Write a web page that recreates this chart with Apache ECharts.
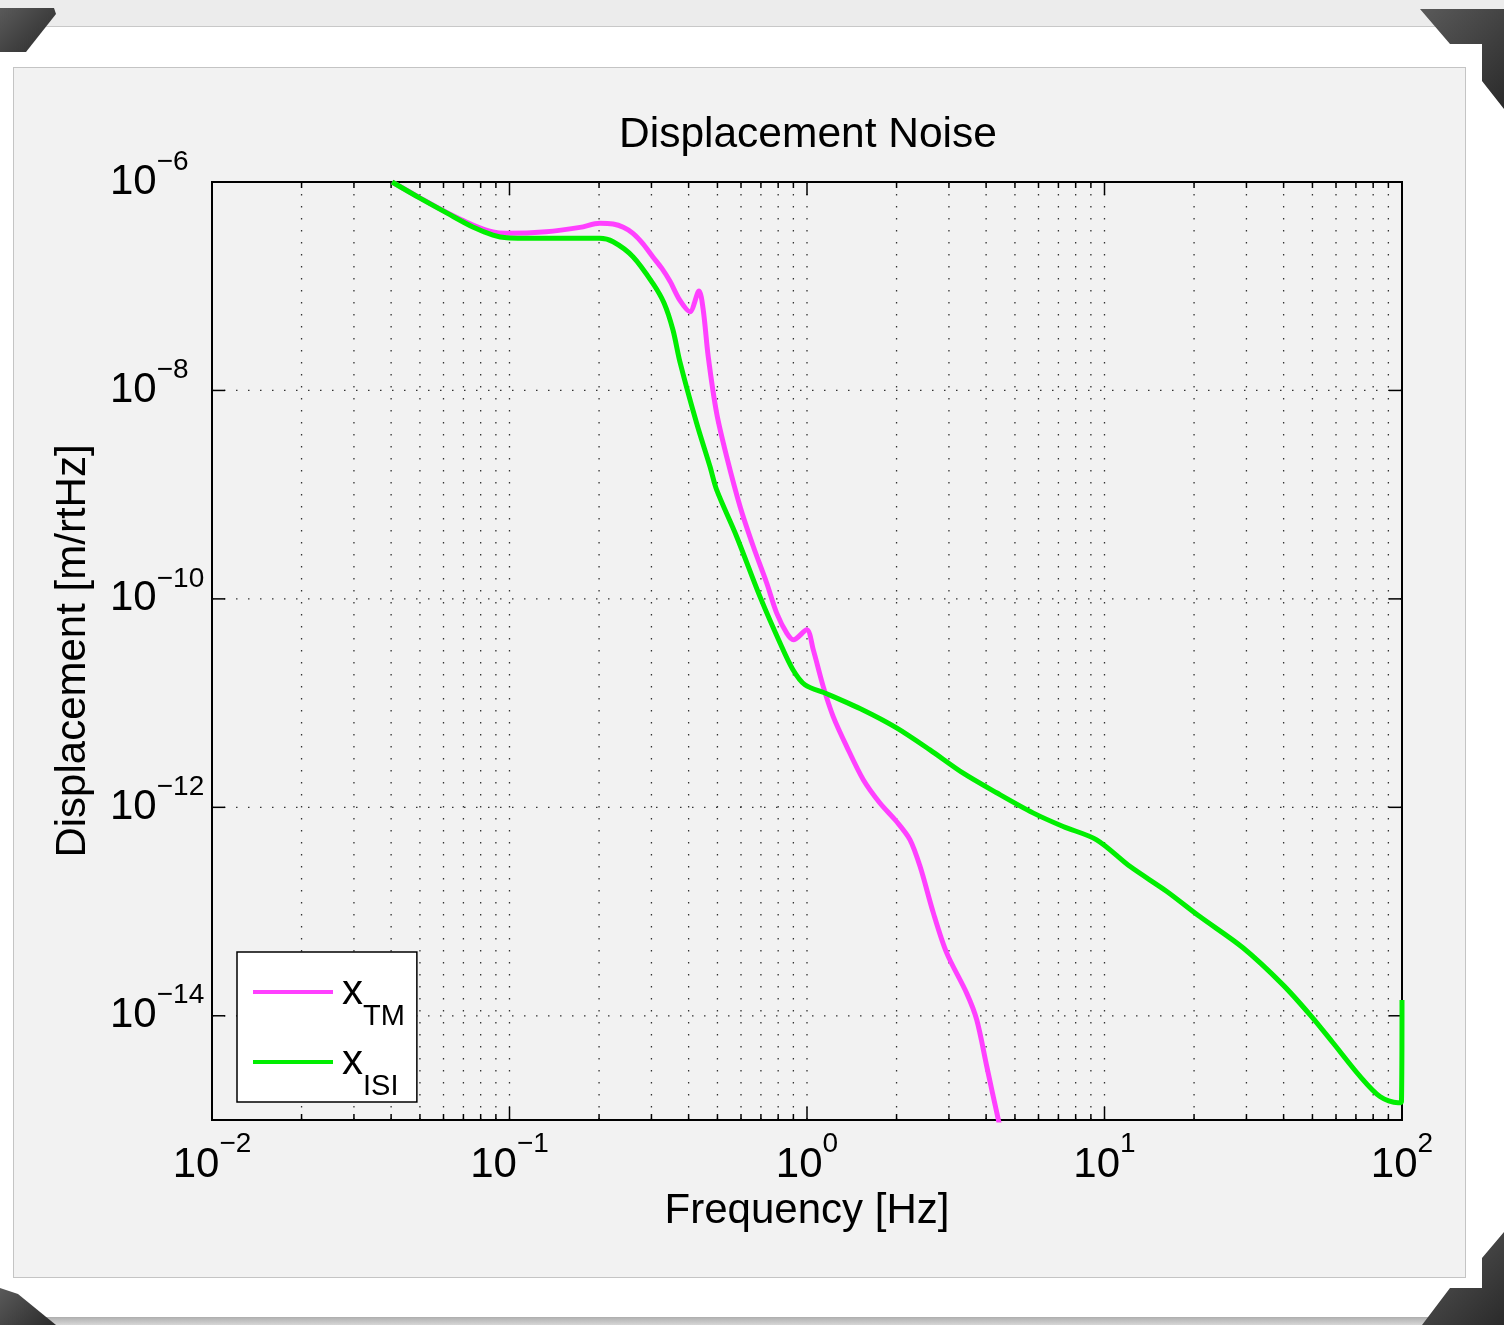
<!DOCTYPE html>
<html>
<head>
<meta charset="utf-8">
<script src="https://cdn.jsdelivr.net/npm/echarts@6/dist/echarts.min.js"></script>
<style>
  body { margin: 0; width: 1504px; height: 1325px; overflow: hidden; position: relative; background: #ececec; }
  #mount { position: absolute; left: 0; top: 26px; width: 1504px; height: 1290px; background: #fff;
           border-top: 1px solid #c8c8c8; border-bottom: 1px solid #b0b0b0; }
  #panel { position: absolute; left: 13px; top: 67px; width: 1451px; height: 1209px; background: #f2f2f2;
           border: 1px solid #c4c4c4; }
  #band { position: absolute; left: 0; top: 1318px; width: 1504px; height: 7px;
          background: linear-gradient(#b4b4b4, #d6d6d6); }
  .corner { position: absolute; background: linear-gradient(135deg, #5a5a5a, #2a2a2a); }
  #main { position: absolute; left: 0; top: 0; width: 1504px; height: 1325px; }
</style>
</head>
<body>
<div id="mount"></div>
<div id="panel"></div>
<div id="band"></div>
<div class="corner" style="left:0;top:8px;width:56px;height:44px;clip-path:polygon(0 0,54px 0,56px 6px,26px 44px,0 44px);"></div>
<div class="corner" style="left:1420px;top:9px;width:84px;height:100px;clip-path:polygon(0 0,84px 0,84px 100px,62px 72px,62px 35px,30px 35px);"></div>
<div class="corner" style="left:0;top:1288px;width:56px;height:37px;clip-path:polygon(0 0,18px 6px,56px 37px,0 37px);"></div>
<div class="corner" style="left:1422px;top:1232px;width:82px;height:93px;clip-path:polygon(0 93px,28px 56px,60px 56px,60px 26px,82px 0,82px 93px);"></div>
<div id="main"></div>
<script type="text/javascript">
// 轴范围
var X_MIN = 0.01, X_MAX = 100;
var Y_MIN = 1e-15, Y_MAX = 1e-6;

// x 网格 / 刻度
var xDecades = [0.01, 0.1, 1, 10];
var xMinorMult = [2, 3, 4, 5, 6, 7, 8, 9];
var yGridVals = [1e-14, 1e-12, 1e-10, 1e-8];

// x_ISI 曲线
var freqISI = [0.0403, 0.05, 0.0615, 0.0753, 0.088, 0.0978, 0.133, 0.201, 0.223, 0.26,
               0.303, 0.3307, 0.3544, 0.3742, 0.4257, 0.472, 0.497, 0.58, 0.695,
               0.811, 0.897, 0.984, 1.165, 1.542, 2.0, 2.59, 3.34, 4.34, 5.75,
               7.26, 9.41, 12.2, 16.2, 20.9, 29.2, 39.8, 49.1, 58.6, 72.3,
               84.3, 97.0, 99.6, 100];
var ampISI  = [1.0e-6, 7.0e-7, 5.05e-7, 3.7e-7, 3.1e-7, 2.92e-7, 2.88e-7, 2.88e-7, 2.67e-7, 1.92e-7,
               1.07e-7, 6.9e-8, 3.8e-8, 1.87e-8, 4.84e-9, 1.86e-9, 1.11e-9, 3.97e-10, 1.05e-10,
               3.79e-11, 2.09e-11, 1.5e-11, 1.23e-11, 8.6e-12, 5.79e-12, 3.56e-12, 2.14e-12, 1.38e-12, 8.85e-13,
               6.55e-13, 4.88e-13, 2.7e-13, 1.56e-13, 8.95e-14, 4.49e-14, 1.98e-14, 1.02e-14, 5.51e-15, 2.62e-15,
               1.68e-15, 1.46e-15, 1.5e-15, 1.42e-14];

// x_TM 曲线
var freqTM = [0.0403, 0.05, 0.0615, 0.0753, 0.088, 0.0978, 0.133, 0.1726, 0.201, 0.223,
              0.2413, 0.26, 0.2816, 0.303, 0.3248, 0.346, 0.374, 0.404, 0.4335, 0.448,
              0.4656, 0.497, 0.537, 0.596, 0.66, 0.732, 0.791, 0.855, 0.9, 0.998,
              1.05, 1.134, 1.225, 1.36, 1.546, 1.758, 2.0, 2.22, 2.4, 2.66,
              2.95, 3.44, 3.72, 4.02, 4.4, 4.6];
var ampTM  = [1.0e-6, 7.05e-7, 5.1e-7, 3.87e-7, 3.31e-7, 3.22e-7, 3.33e-7, 3.67e-7, 4.02e-7, 3.95e-7,
              3.68e-7, 3.22e-7, 2.54e-7, 1.92e-7, 1.49e-7, 1.12e-7, 7.3e-8, 5.7e-8, 9.0e-8, 5.9e-8,
              2.11e-8, 6.04e-9, 2.32e-9, 7.67e-10, 3.18e-10, 1.42e-10, 7.3e-11, 4.69e-11, 4.05e-11, 5.05e-11,
              3.24e-11, 1.44e-11, 7.43e-12, 3.83e-12, 1.84e-12, 1.1e-12, 7.31e-13, 4.88e-13, 2.7e-13, 9.66e-14,
              3.99e-14, 1.65e-14, 9.16e-15, 3.27e-15, 1.0e-15, 6.0e-16];

var FONT = '"Liberation Sans", Arial, Helvetica, sans-serif';

function pairs(xs, ys) {
    return xs.map(function (x, i) { return [x, ys[i]]; });
}

// 网格线数据: [值, 是否主刻度]
var xGridData = [];
xDecades.forEach(function (d, k) {
    if (k > 0) xGridData.push([d, 1]);
    xMinorMult.forEach(function (m) { xGridData.push([d * m, 0]); });
});

function expText(v) {
    var e = Math.round(Math.log(v) / Math.LN10);
    return e < 0 ? '\u2212' + (-e) : '' + e;
}

var dotStyle = { stroke: '#333', lineWidth: 1.3, lineDash: [1.5, 10.5] };
var tickStyle = { stroke: '#000', lineWidth: 1.5 };

var myChart = echarts.init(document.getElementById('main'));
myChart.setOption({
    animation: false,
    backgroundColor: 'transparent',
    textStyle: { fontFamily: FONT, color: '#000' },
    title: {
        text: 'Displacement Noise',
        left: 619, top: 114, padding: 0,
        textStyle: { fontSize: 42.5, fontWeight: 'normal', color: '#000', fontFamily: FONT }
    },
    grid: {
        left: 212, top: 182, width: 1190, height: 938,
        show: true, borderColor: '#000', borderWidth: 2, backgroundColor: 'transparent'
    },
    legend: {
        data: ['xTM', 'xISI'],
        orient: 'vertical',
        left: 237, top: 952,
        padding: [19, 12, 1, 16],
        itemGap: 10,
        itemWidth: 80, itemHeight: 4,
        icon: 'rect',
        backgroundColor: '#fff',
        borderColor: '#000', borderWidth: 1.5, borderRadius: 0,
        formatter: function (name) {
            return name === 'xTM' ? '{x|x}{sub|TM}' : '{x|x}{sub|ISI}';
        },
        textStyle: {
            color: '#000',
            rich: {
                x: { fontSize: 42, lineHeight: 78, fontFamily: FONT, color: '#000', padding: [0, 0, 0, 4] },
                sub: { fontSize: 29, lineHeight: 29, verticalAlign: 'bottom', fontFamily: FONT, color: '#000' }
            }
        }
    },
    xAxis: {
        type: 'log', logBase: 10, min: X_MIN, max: X_MAX,
        name: 'Frequency [Hz]', nameLocation: 'middle', nameGap: 70,
        nameTextStyle: { fontSize: 42, color: '#000', fontFamily: FONT },
        axisLine: { show: false }, axisTick: { show: false }, splitLine: { show: false },
        axisLabel: {
            margin: 10, showMinLabel: true, showMaxLabel: true,
            formatter: function (v) { return '{b|10}{s|' + expText(v) + '}'; },
            rich: {
                b: { fontSize: 42, lineHeight: 70, fontFamily: FONT, color: '#000' },
                s: { fontSize: 28, lineHeight: 28, verticalAlign: 'top', fontFamily: FONT, color: '#000' }
            }
        }
    },
    yAxis: {
        type: 'log', logBase: 10, min: Y_MIN, max: Y_MAX,
        name: 'Displacement [m/rtHz]', nameLocation: 'middle', nameGap: 118,
        nameTextStyle: { fontSize: 42, color: '#000', fontFamily: FONT },
        axisLine: { show: false }, axisTick: { show: false }, splitLine: { show: false },
        axisLabel: {
            margin: 102, align: 'left', showMinLabel: true, showMaxLabel: true,
            formatter: function (v) {
                var e = Math.round(Math.log(v) / Math.LN10);
                if (e % 2 !== 0) return '';
                return '{b|10}{s|' + expText(v) + '}';
            },
            rich: {
                b: { fontSize: 42, lineHeight: 68, fontFamily: FONT, color: '#000' },
                s: { fontSize: 28, lineHeight: 28, verticalAlign: 'top', fontFamily: FONT, color: '#000' }
            }
        }
    },
    series: [
        {
            // 竖向点状网格 + 上下刻度
            type: 'custom', name: 'xgrid', silent: true, z: 1,
            data: xGridData,
            encode: { x: 0 },
            renderItem: function (params, api) {
                var x = api.value(0), major = api.value(1);
                var top = api.coord([x, Y_MAX]), bot = api.coord([x, Y_MIN]);
                var len = major ? 13 : 6;
                return {
                    type: 'group', children: [
                        { type: 'line', shape: { x1: top[0], y1: top[1], x2: bot[0], y2: bot[1] }, style: dotStyle },
                        { type: 'line', shape: { x1: bot[0], y1: bot[1], x2: bot[0], y2: bot[1] - len }, style: tickStyle },
                        { type: 'line', shape: { x1: top[0], y1: top[1], x2: top[0], y2: top[1] + len }, style: tickStyle }
                    ]
                };
            }
        },
        {
            // 横向点状网格 + 左右刻度
            type: 'custom', name: 'ygrid', silent: true, z: 1,
            data: yGridVals.map(function (v) { return [X_MIN, v]; }),
            encode: { x: 0, y: 1 },
            renderItem: function (params, api) {
                var y = api.value(1);
                var l = api.coord([X_MIN, y]), r = api.coord([X_MAX, y]);
                return {
                    type: 'group', children: [
                        { type: 'line', shape: { x1: l[0], y1: l[1], x2: r[0], y2: r[1] }, style: dotStyle },
                        { type: 'line', shape: { x1: l[0], y1: l[1], x2: l[0] + 13, y2: l[1] }, style: tickStyle },
                        { type: 'line', shape: { x1: r[0], y1: r[1], x2: r[0] - 13, y2: r[1] }, style: tickStyle }
                    ]
                };
            }
        },
        {
            name: 'xTM', type: 'line', data: pairs(freqTM, ampTM),
            symbol: 'none', smooth: 0.3, z: 4,
            color: '#ff40ff', itemStyle: { color: '#ff40ff' },
            lineStyle: { width: 5, color: '#ff40ff' }
        },
        {
            name: 'xISI', type: 'line', data: pairs(freqISI, ampISI),
            symbol: 'none', smooth: 0.3, z: 5,
            color: '#00ee00', itemStyle: { color: '#00ee00' },
            lineStyle: { width: 5, color: '#00ee00' }
        }
    ]
});
</script>
</body>
</html>
